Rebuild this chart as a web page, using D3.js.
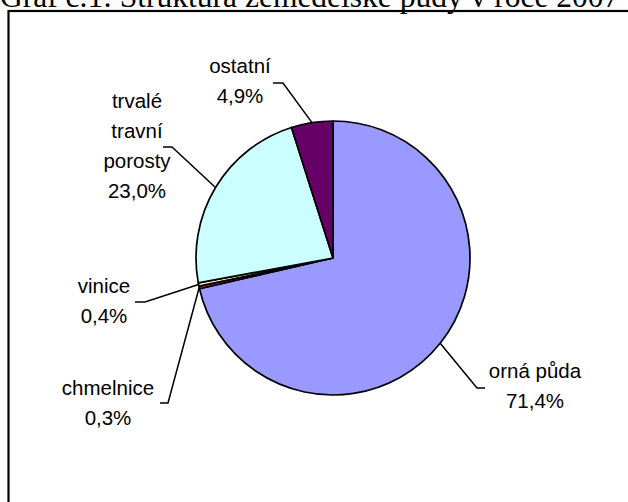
<!DOCTYPE html>
<html>
<head>
<meta charset="utf-8">
<script src="https://cdn.jsdelivr.net/npm/d3@7"></script>
<style>
  body { margin: 0; background: #fff; }
  text { font-family: "Liberation Sans", Arial, sans-serif; }
</style>
</head>
<body>
<script>
// data
var categories = ["orná půda", "chmelnice", "vinice", "trvalé travní porosty", "ostatní"];
var values = [71.4, 0.3, 0.4, 23.0, 4.9];
var labels = [["orná půda", "71,4%"], ["chmelnice", "0,3%"], ["vinice", "0,4%"],
              ["trvalé", "travní", "porosty", "23,0%"], ["ostatní", "4,9%"]];
var colors = ["#9999ff", "#993366", "#ffffcc", "#ccffff", "#660066"];

// layout of labels (center x, first baseline y) and leader elbows
var labelPos = [[535, 378], [108, 395], [104, 293], [137, 108], [240, 73]];
var elbows = [[[485, 388], [477, 388]], [[160, 403], [168, 403]], [[135, 302], [145, 302]],
              [[163, 147], [172, 147]], [[273, 83], [283, 83]]];

var width = 628, height = 502;
var cx = 333, cy = 258, r = 137;

var svg = d3.select("body").append("svg")
    .attr("width", width)
    .attr("height", height);

// title, cut by the top edge as in the source
svg.append("text")
    .attr("x", 0)
    .attr("y", 7)
    .style("font-family", "'Liberation Serif', 'Times New Roman', serif")
    .style("font-size", "31.5px")
    .text("Graf č.1: Struktura zemědělské půdy v roce 2007");

// chart frame
svg.append("rect")
    .attr("x", 8.5)
    .attr("y", 11)
    .attr("width", 700)
    .attr("height", 600)
    .attr("fill", "none")
    .attr("stroke", "#000")
    .attr("stroke-width", 2.2);

var pie = d3.pie().sort(null).value(function(d) { return d; });
var arcs = pie(values);

var arc = d3.arc().innerRadius(0).outerRadius(r);
var edge = d3.arc().innerRadius(r).outerRadius(r);

var g = svg.append("g").attr("transform", "translate(" + cx + "," + cy + ")");

g.selectAll("path.slice")
    .data(arcs)
    .enter()
    .append("path")
    .attr("class", "slice")
    .attr("d", arc)
    .attr("fill", function(d, i) { return colors[i]; })
    .attr("stroke", "#000")
    .attr("stroke-width", 1.7)
    .attr("stroke-linejoin", "round");

// leader lines
svg.selectAll("polyline.leader")
    .data(arcs)
    .enter()
    .append("polyline")
    .attr("class", "leader")
    .attr("points", function(d, i) {
        var p = edge.centroid(d);
        var pts = elbows[i].concat([[p[0] + cx, p[1] + cy]]);
        return pts.map(function(q) { return q.join(","); }).join(" ");
    })
    .attr("fill", "none")
    .attr("stroke", "#000")
    .attr("stroke-width", 1.5);

// labels
var lab = svg.selectAll("text.lab")
    .data(labels)
    .enter()
    .append("text")
    .attr("class", "lab")
    .attr("text-anchor", "middle")
    .style("font-size", "20.5px")
    .attr("fill", "#000");

lab.selectAll("tspan")
    .data(function(d, i) { return d.map(function(t) { return {t: t, i: i}; }); })
    .enter()
    .append("tspan")
    .attr("x", function(d) { return labelPos[d.i][0]; })
    .attr("y", function(d, j) { return labelPos[d.i][1] + j * 30; })
    .text(function(d) { return d.t; });
</script>
</body>
</html>
